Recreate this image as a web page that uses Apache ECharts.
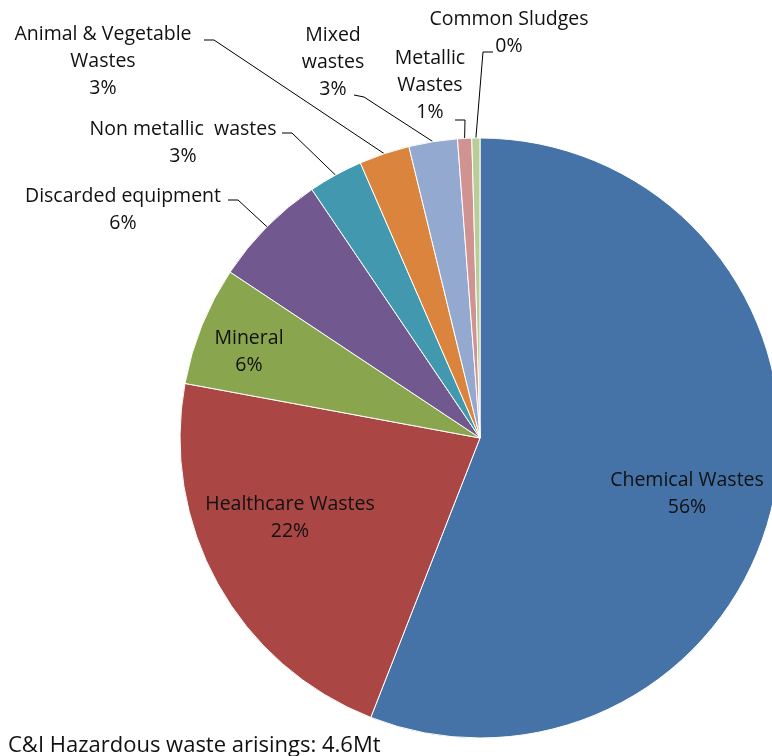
<!DOCTYPE html>
<html>
<head>
<meta charset="utf-8">
<title>C&amp;I Hazardous waste arisings</title>
<script src="https://cdn.jsdelivr.net/npm/echarts@6/dist/echarts.min.js"></script>
<style>
  html, body { margin: 0; padding: 0; background: #fff; }
  #chart { width: 772px; height: 756px; }
</style>
</head>
<body>
<div id="chart"></div>
<script>
// waste arisings, kt (total ~4.6Mt)
const categories = [
  'Chemical Wastes',
  'Healthcare Wastes',
  'Mineral',
  'Discarded equipment',
  'Non metallic  wastes',
  'Animal & Vegetable Wastes',
  'Mixed wastes',
  'Metallic Wastes',
  'Common Sludges'
]
const values = [2570, 1010, 295, 285, 135, 125, 120, 35, 20]
const colors = ['#4572A7', '#AA4643', '#89A54E', '#71588F', '#4198AF', '#DB843D', '#93A9CF', '#D19392', '#B9CD96']

// how each label is broken over lines, as in the original
const labelNames = [
  'Chemical Wastes',
  'Healthcare Wastes',
  'Mineral',
  'Discarded equipment',
  'Non metallic  wastes',
  'Animal & Vegetable\nWastes',
  'Mixed\nwastes',
  'Metallic\nWastes',
  'Common Sludges'
]

// label block centres and where the leader leaves the text
const labelSpots = [
  { x: 687, y: 494 },
  { x: 290, y: 518 },
  { x: 249, y: 352 },
  { x: 123, y: 210, end: [228, 200], elbow: [238, 200] },
  { x: 183, y: 143, end: [282, 133], elbow: [292, 133] },
  { x: 103, y: 61, end: [204, 40], elbow: [214, 40] },
  { x: 333, y: 62, end: [354, 95], elbow: [364, 97] },
  { x: 430, y: 85, end: [455, 120], elbow: [465, 120] },
  { x: 509, y: 33, end: [493, 52], elbow: [483, 52] }
]

const chart = echarts.init(document.getElementById('chart'))

const option = {
  animation: false,
  color: colors,
  title: {
    text: 'C&I Hazardous waste arisings: 4.6Mt',
    left: 3,
    top: 730,
    textStyle: {
      fontFamily: 'Open Sans',
      fontSize: 22,
      fontWeight: 'normal',
      color: '#111'
    }
  },
  series: [{
    type: 'pie',
    center: [480, 438],
    radius: [0, 300],
    startAngle: 90,
    clockwise: true,
    avoidLabelOverlap: false,
    itemStyle: {
      borderColor: '#fff',
      borderWidth: 1
    },
    label: {
      show: true,
      position: 'outside',
      fontFamily: 'Open Sans',
      fontSize: 19.5,
      lineHeight: 27,
      color: '#111',
      align: 'center',
      formatter(params) {
        return labelNames[params.dataIndex] + '\n' + Math.round(params.percent) + '%'
      }
    },
    labelLine: {
      show: true,
      length: 10,
      length2: 10,
      lineStyle: { color: '#000', width: 1 }
    },
    labelLayout(params) {
      const s = labelSpots[params.dataIndex]
      const res = { x: s.x, y: s.y, align: 'center', verticalAlign: 'middle' }
      if (s.end && params.labelLinePoints) {
        res.labelLinePoints = [params.labelLinePoints[0], s.elbow, s.end]
      }
      return res
    },
    data: categories.map((name, i) => {
      const item = { name: name, value: values[i] }
      if (i < 3) {
        item.label = { position: 'inside' }
        item.labelLine = { show: false }
      }
      return item
    })
  }]
}

chart.setOption(option)
</script>
</body>
</html>
